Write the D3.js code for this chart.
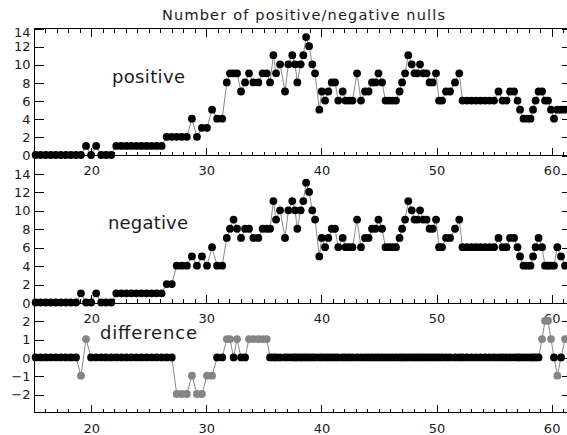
<!DOCTYPE html>
<html lang="en">
<head>
  <meta charset="UTF-8" />
  <title>Number of positive/negative nulls</title>
  <script src="https://d3js.org/d3.v7.min.js"></script>
  <style>
    body { margin: 0; background: #fff; }
    svg { display: block; }
    text { font-family: "DejaVu Sans", sans-serif; fill: #1a1a1a; }
    .frame { fill: none; stroke: #000; stroke-width: 1px; shape-rendering: crispEdges; }
    .axis path { display: none; }
    .axis line { stroke: #000; stroke-width: 1px; shape-rendering: crispEdges; }
    .axis text { font-size: 13px; }
    .link { fill: none; stroke: #8a8a8a; stroke-width: 1px; }
  </style>
</head>
<body>
<script>
  // sample positions (x)
  const xs = [
    15.21, 15.65, 16.09, 16.53, 16.96, 17.40, 17.84, 18.28, 18.72, 19.15,
    19.59, 20.03, 20.47, 20.91, 21.34, 21.78, 22.22, 22.66, 23.10, 23.53,
    23.97, 24.41, 24.85, 25.29, 25.72, 26.16, 26.60, 27.04, 27.47, 27.91,
    28.35, 28.79, 29.23, 29.66, 30.10, 30.54, 30.98, 31.42,
    31.82, 32.10, 32.41, 32.71, 33.06, 33.41, 33.75, 34.13, 34.56, 34.94,
    35.29, 35.58, 35.87, 36.10, 36.45, 36.88, 37.17, 37.51, 37.75, 37.95,
    38.24, 38.47, 38.71, 38.97, 39.25, 39.49, 39.86, 40.07, 40.36, 40.64,
    40.94, 41.22, 41.51, 41.89, 42.14, 42.44, 42.74, 43.14, 43.48, 43.83,
    44.14, 44.44, 44.74, 45.00, 45.31, 45.61, 45.92, 46.22, 46.52, 46.83,
    47.05, 47.31, 47.59, 47.89, 48.13, 48.39, 48.61, 48.90, 49.18, 49.44,
    49.71, 50.00, 50.26, 50.52, 50.87, 51.22, 51.65, 52.02, 52.30, 52.69,
    53.08, 53.48, 53.87, 54.26, 54.65, 55.04, 55.43, 55.78, 56.13, 56.43,
    56.78, 57.08, 57.30, 57.60, 57.91, 58.21, 58.43, 58.65, 58.91, 59.21,
    59.47, 59.73, 59.99, 60.25, 60.54, 60.86, 61.21
  ];

  const positive = [
    0, 0, 0, 0, 0, 0, 0, 0, 0, 0,
    1, 0, 1, 0, 0, 0, 1, 1, 1, 1,
    1, 1, 1, 1, 1, 1, 2, 2, 2, 2,
    2, 4, 2, 3, 3, 5, 4, 4,
    8, 9, 9, 9, 7, 8, 9, 8, 8, 9,
    9, 8, 11, 9, 10, 7, 10, 11, 10, 8,
    10, 11, 13, 12, 10, 9, 5, 7, 6, 7,
    8, 8, 6, 7, 6, 6, 6, 9, 6, 7,
    7, 8, 8, 9, 8, 6, 6, 6, 6, 7,
    8, 9, 11, 10, 9, 9, 10, 9, 9, 8,
    8, 9, 6, 6, 7, 7, 8, 9, 6, 6,
    6, 6, 6, 6, 6, 6, 7, 6, 6, 7,
    7, 6, 5, 4, 4, 4, 5, 6, 7, 7,
    6, 6, 5, 4, 5, 5, 5
  ];

  const negative = [
    0, 0, 0, 0, 0, 0, 0, 0, 0, 1,
    0, 0, 1, 0, 0, 0, 1, 1, 1, 1,
    1, 1, 1, 1, 1, 1, 2, 2, 4, 4,
    4, 5, 4, 5, 4, 6, 4, 4,
    7, 8, 9, 8, 7, 8, 8, 7, 7, 8,
    8, 8, 11, 9, 10, 7, 10, 11, 10, 8,
    10, 11, 13, 12, 10, 9, 5, 7, 6, 7,
    8, 8, 6, 7, 6, 6, 6, 9, 6, 7,
    7, 8, 8, 9, 8, 6, 6, 6, 6, 7,
    8, 9, 11, 10, 9, 9, 10, 9, 9, 8,
    8, 9, 6, 6, 7, 7, 8, 9, 6, 6,
    6, 6, 6, 6, 6, 6, 7, 6, 6, 7,
    7, 6, 5, 4, 4, 4, 5, 6, 7, 6,
    4, 4, 4, 4, 6, 5, 4
  ];

  const difference = [
    0, 0, 0, 0, 0, 0, 0, 0, 0, -1,
    1, 0, 0, 0, 0, 0, 0, 0, 0, 0,
    0, 0, 0, 0, 0, 0, 0, 0, -2, -2,
    -2, -1, -2, -2, -1, -1, 0, 0,
    1, 1, 0, 1, 0, 0, 1, 1, 1, 1,
    1, 0, 0, 0, 0, 0, 0, 0, 0, 0,
    0, 0, 0, 0, 0, 0, 0, 0, 0, 0,
    0, 0, 0, 0, 0, 0, 0, 0, 0, 0,
    0, 0, 0, 0, 0, 0, 0, 0, 0, 0,
    0, 0, 0, 0, 0, 0, 0, 0, 0, 0,
    0, 0, 0, 0, 0, 0, 0, 0, 0, 0,
    0, 0, 0, 0, 0, 0, 0, 0, 0, 0,
    0, 0, 0, 0, 0, 0, 0, 0, 0, 1,
    2, 2, 1, 0, -1, 0, 1
  ];

  const xMinorTicks = d3.range(16, 62);
  const xMajorTicks = [20, 30, 40, 50, 60];
  const countTicks = [0, 2, 4, 6, 8, 10, 12, 14];
  const diffTicks = [-2, -1, 0, 1, 2];

  const width = 567, height = 435;
  const svg = d3.select("body").append("svg")
    .attr("width", width)
    .attr("height", height);

  const x = d3.scaleLinear().domain([15.07, 61.64]).range([34, 570]);

  const panels = [
    { name: "positive", values: positive, domain: [0, 14], top: 28, bottom: 155,
      ticks: countTicks, label: [112, 83, 73] },
    { name: "negative", values: negative, domain: [0, 16], top: 155, bottom: 302.5,
      ticks: countTicks, label: [108, 229, 80] },
    { name: "difference", values: difference, domain: [-3, 3], top: 302.5, bottom: 412.3,
      ticks: diffTicks, label: [100, 339, 97] }
  ];

  const fmt = d => d < 0 ? "\u2212" + Math.abs(d) : String(d);

  panels.forEach((p, i) => {
    const y = d3.scaleLinear().domain(p.domain).range([p.bottom, p.top]);
    const g = svg.append("g");

    // frame
    g.append("rect").attr("class", "frame")
      .attr("x", x.range()[0] + 0.5).attr("y", p.top + 0.5)
      .attr("width", x.range()[1] - x.range()[0])
      .attr("height", p.bottom - p.top);

    // bottom axis: minor + major ticks pointing up, labels below
    g.append("g").attr("class", "axis")
      .attr("transform", `translate(0.5,${p.bottom + 0.5})`)
      .call(d3.axisBottom(x).tickValues(xMinorTicks).tickSize(-4).tickSizeOuter(0).tickFormat(""));
    g.append("g").attr("class", "axis")
      .attr("transform", `translate(0.5,${p.bottom + 0.5})`)
      .call(d3.axisBottom(x).tickValues(xMajorTicks).tickSize(-8).tickSizeOuter(0).tickPadding(10.5));

    // top axis only on the first panel
    if (i === 0) {
      g.append("g").attr("class", "axis")
        .attr("transform", `translate(0.5,${p.top + 0.5})`)
        .call(d3.axisTop(x).tickValues(xMinorTicks).tickSize(-4).tickSizeOuter(0).tickFormat(""));
      g.append("g").attr("class", "axis")
        .attr("transform", `translate(0.5,${p.top + 0.5})`)
        .call(d3.axisTop(x).tickValues(xMajorTicks).tickSize(-8).tickSizeOuter(0).tickFormat(""));
    }

    // left and right axes
    const left = g.append("g").attr("class", "axis")
      .attr("transform", `translate(${x.range()[0] + 0.5},0.5)`)
      .call(d3.axisLeft(y).tickValues(p.ticks).tickSize(-9).tickSizeOuter(0)
        .tickPadding(4).tickFormat(fmt));
    // the top label of the first panel sits a little lower, as in the original
    if (i === 0) left.selectAll(".tick text").filter(d => d === 14).attr("dy", "0.62em");
    g.append("g").attr("class", "axis")
      .attr("transform", `translate(${x.range()[1] + 0.5},0.5)`)
      .call(d3.axisRight(y).tickValues(p.ticks).tickSize(-9).tickSizeOuter(0).tickFormat(""));

    // connecting line
    const line = d3.line()
      .x((d, j) => x(xs[j]))
      .y(d => y(d));
    g.append("path").attr("class", "link").attr("d", line(p.values));

    // points (non-zero differences in grey)
    g.selectAll("circle")
      .data(p.values)
      .enter()
      .append("circle")
        .attr("cx", (d, j) => x(xs[j]))
        .attr("cy", d => y(d))
        .attr("r", 3.9)
        .attr("fill", d => (i === 2 && d !== 0) ? "#858585" : "#000");

    // panel name
    g.append("text")
      .attr("x", p.label[0]).attr("y", p.label[1])
      .attr("textLength", p.label[2]).attr("lengthAdjust", "spacing")
      .style("font-size", "18px")
      .text(p.name);
  });

  // title
  svg.append("text")
    .attr("x", 162).attr("y", 20)
    .attr("textLength", 283).attr("lengthAdjust", "spacing")
    .style("font-size", "14.5px")
    .text("Number of positive/negative nulls");
</script>
</body>
</html>
